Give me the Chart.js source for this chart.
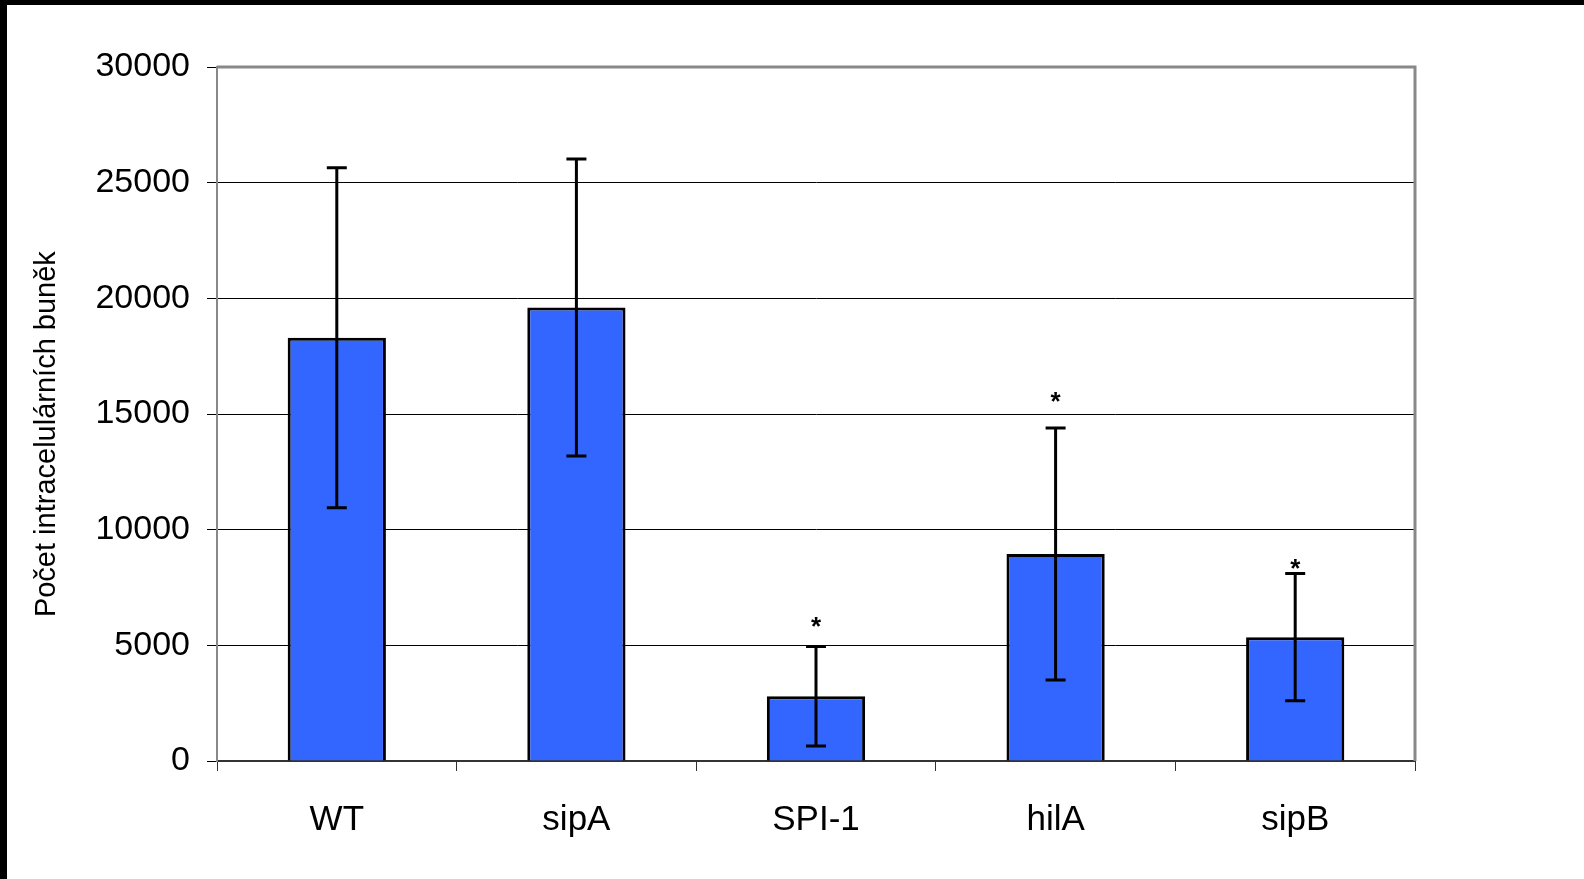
<!DOCTYPE html>
<html>
<head>
<meta charset="utf-8">
<script src="https://cdn.jsdelivr.net/npm/chart.js@4.4.0/dist/chart.umd.min.js"></script>
<style>
  html, body { margin: 0; padding: 0; background: #fff; overflow: hidden; }
  #wrap {
    width: 1577px; height: 874px;
    border-top: 5px solid #000; border-left: 7px solid #000;
    background: #fff;
  }
</style>
</head>
<body>
<div id="wrap"><canvas id="myChart" width="1577" height="874"></canvas></div>
<script>
const kmeny = ['WT', 'sipA', 'SPI-1', 'hilA', 'sipB']
const pocty = [18300, 19600, 2800, 8950, 5350]
const chyby = [7350, 6420, 2150, 5450, 2750]
const hvezdicky = [null, null, 6100, 15800, 8600]
const yTicks = [0, 5000, 10000, 15000, 20000, 25000, 30000]

// chybove useky a hvezdicky
const chybovePlugin = {
    id: 'chyby',
    afterDatasetsDraw(chart) {
        const ctx = chart.ctx
        const x = chart.scales.x
        const y = chart.scales.y
        ctx.save()
        ctx.strokeStyle = '#000'
        ctx.lineWidth = 3
        pocty.forEach((v, i) => {
            const px = x.getPixelForValue(i)
            const top = y.getPixelForValue(v + chyby[i])
            const bot = y.getPixelForValue(v - chyby[i])
            ctx.beginPath()
            ctx.moveTo(px, top); ctx.lineTo(px, bot)
            ctx.moveTo(px - 10, top); ctx.lineTo(px + 10, top)
            ctx.moveTo(px - 10, bot); ctx.lineTo(px + 10, bot)
            ctx.stroke()
        })
        ctx.fillStyle = '#000'
        ctx.font = 'bold 26px "Liberation Sans", Arial, sans-serif'
        ctx.textAlign = 'center'
        ctx.textBaseline = 'alphabetic'
        hvezdicky.forEach((v, i) => {
            if (v === null) return
            ctx.fillText('*', x.getPixelForValue(i), y.getPixelForValue(v) + 15)
        })
        // ramecek plochy grafu (nahore a vpravo)
        const a = chart.chartArea
        ctx.strokeStyle = '#888'
        ctx.lineWidth = 3
        ctx.beginPath()
        ctx.moveTo(a.left, a.top); ctx.lineTo(a.right, a.top); ctx.lineTo(a.right, a.bottom)
        ctx.stroke()
        ctx.restore()
    }
}

const ctx = document.getElementById('myChart').getContext('2d')

new Chart(ctx, {
    type: 'bar',
    data: {
        labels: kmeny,
        datasets: [{
            data: pocty,
            backgroundColor: '#3366ff',
            borderColor: '#000',
            borderWidth: 3,
            barPercentage: 0.41,
            categoryPercentage: 1
        }]
    },
    options: {
        responsive: false,
        animation: false,
        plugins: { legend: { display: false }, tooltip: { enabled: false } },
        scales: {
            x: {
                grid: { drawOnChartArea: false, drawTicks: true, tickLength: 10, color: '#333', offset: true },
                border: { color: '#333', width: 2 },
                ticks: {
                    color: '#000', padding: 28,
                    font: { family: '"Liberation Sans", Arial, sans-serif', size: 35 }
                },
                afterFit: (s) => { s.height = 874 - 756 }
            },
            y: {
                min: 0, max: 30000,
                afterBuildTicks: (s) => { s.ticks = yTicks.map(v => ({ value: v })) },
                grid: { color: '#000', lineWidth: 1, tickLength: 10 },
                border: { color: '#888', width: 2 },
                ticks: {
                    color: '#000', padding: 17,
                    callback: (v) => String(v),
                    font: { family: '"Liberation Sans", Arial, sans-serif', size: 34 }
                },
                title: {
                    display: true,
                    // mezery na konci posunou text dolu jako v predloze
                    text: 'Počet intracelulárních buněk     ',
                    color: '#000',
                    padding: { top: 23, bottom: 0 },
                    font: { family: '"Liberation Sans", Arial, sans-serif', size: 29 }
                },
                afterFit: (s) => { s.width = 210 }
            }
        }
    },
    plugins: [chybovePlugin, {
        id: 'okraje',
        beforeLayout(chart) { chart.options.layout.padding = { left: 0, top: 62, right: 1577 - 1408, bottom: 0 } }
    }]
})
</script>
</body>
</html>
